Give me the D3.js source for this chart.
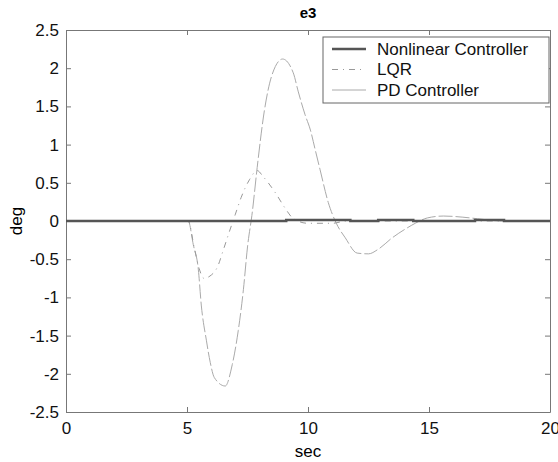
<!DOCTYPE html>
<html>
<head>
<meta charset="utf-8">
<script src="https://cdn.jsdelivr.net/npm/d3@7"></script>
<style>
  body { margin: 0; background: #fff; }
  svg { font-family: "Liberation Sans", Arial, sans-serif; }
</style>
</head>
<body>
<div id="chart-area"></div>
<script>
// e3 response, values
const xTicks = [0, 5, 10, 15, 20];
const yTicks = [-2.5, -2, -1.5, -1, -0.5, 0, 0.5, 1, 1.5, 2, 2.5];
const seriesNames = ["Nonlinear Controller", "LQR", "PD Controller"];

const nlTime = [0, 9.1, 9.1, 11.75, 11.75, 12.9, 12.9, 14.35, 14.35, 16.9, 16.9, 18.1, 18.1, 20];
const nlVal  = [0, 0, 0.012, 0.012, 0, 0, 0.012, 0.012, 0, 0, 0.012, 0.012, 0, 0];

const lqrTime = [0, 5.05, 5.3, 5.5, 5.7, 5.95, 6.26, 6.5, 6.75, 7.0, 7.24, 7.58, 7.9, 8.15, 8.65, 9.05, 9.4, 10.0, 11.0, 11.6, 20];
const lqrVal  = [0, 0, -0.35, -0.62, -0.75, -0.72, -0.6, -0.38, -0.14, 0.09, 0.31, 0.54, 0.66, 0.58, 0.37, 0.17, 0.03, -0.03, -0.03, 0, 0];

const pdTime = [0, 5.05, 5.26, 5.47, 5.59, 5.8, 5.96, 6.13, 6.58, 6.87, 7.12, 7.33, 7.5, 7.7, 7.9, 8.2, 8.5, 8.95, 9.39, 9.6, 9.88, 10.1, 10.3, 10.5, 10.84, 11.17, 11.54, 12.03, 12.5, 12.9, 13.48, 14.1, 14.43, 14.93, 15.6, 16.4, 17.0, 18.0, 20];
const pdVal  = [0, 0, -0.31, -0.64, -1.1, -1.56, -1.85, -2.05, -2.16, -1.88, -1.43, -0.9, -0.34, 0.12, 0.7, 1.45, 1.9, 2.12, 1.94, 1.69, 1.39, 1.19, 0.93, 0.67, 0.24, -0.03, -0.22, -0.42, -0.43, -0.37, -0.22, -0.09, -0.03, 0.04, 0.065, 0.05, 0.03, 0, 0];

const MARGIN = { LEFT: 66, RIGHT: 8, TOP: 30, BOTTOM: 50 };
const WIDTH = 558 - MARGIN.LEFT - MARGIN.RIGHT;
const HEIGHT = 462 - MARGIN.TOP - MARGIN.BOTTOM;

const svg = d3.select("#chart-area").append("svg")
  .attr("width", 558)
  .attr("height", 462);

const g = svg.append("g")
  .attr("transform", `translate(${MARGIN.LEFT}, ${MARGIN.TOP})`);

const x = d3.scaleLinear().domain([0, 20]).range([0, WIDTH]);
const y = d3.scaleLinear().domain([-2.5, 2.5]).range([HEIGHT, 0]);

// axes, matlab style: ticks inside on all sides
const fmt = d => String(d);
const bottom = g.append("g").attr("transform", `translate(0, ${HEIGHT})`)
  .call(d3.axisBottom(x).tickValues(xTicks).tickFormat(fmt).tickSizeInner(-5).tickSizeOuter(0).tickPadding(8));
const left = g.append("g")
  .call(d3.axisLeft(y).tickValues(yTicks).tickFormat(fmt).tickSizeInner(-5).tickSizeOuter(0).tickPadding(7));
g.append("g")
  .call(d3.axisTop(x).tickValues(xTicks).tickFormat("").tickSizeInner(-5).tickSizeOuter(0));
g.append("g").attr("transform", `translate(${WIDTH}, 0)`)
  .call(d3.axisRight(y).tickValues(yTicks).tickFormat("").tickSizeInner(-5).tickSizeOuter(0));

g.selectAll(".domain").attr("stroke", "#777");
g.selectAll(".tick line").attr("stroke", "#777");
g.selectAll(".tick text").attr("font-size", 17).attr("fill", "#111");
bottom.selectAll(".tick text").attr("dy", "0.85em");

const line = d3.line().x(d => x(d[0])).y(d => y(d[1]));
const smooth = d3.line().x(d => x(d[0])).y(d => y(d[1])).curve(d3.curveMonotoneX);

g.append("path")
  .datum(pdTime.map((t, i) => [t, pdVal[i]]))
  .attr("fill", "none").attr("stroke", "#aaa").attr("stroke-width", 1)
  .attr("stroke-dasharray", "14,3")
  .attr("d", smooth);

g.append("path")
  .datum(lqrTime.map((t, i) => [t, lqrVal[i]]))
  .attr("fill", "none").attr("stroke", "#999").attr("stroke-width", 1)
  .attr("stroke-dasharray", "6,5,1,5")
  .attr("d", smooth);

g.append("path")
  .datum(nlTime.map((t, i) => [t, nlVal[i]]))
  .attr("fill", "none").attr("stroke", "#555").attr("stroke-width", 2.5)
  .attr("d", line);

// legend
const legend = g.append("g").attr("transform", `translate(${WIDTH - 227}, 7)`);
legend.append("rect")
  .attr("width", 226).attr("height", 66)
  .attr("fill", "#fff").attr("stroke", "#666");
const legStyles = [
  { stroke: "#555", width: 2.5, dash: null },
  { stroke: "#999", width: 1, dash: "6,5,1,5" },
  { stroke: "#aaa", width: 1, dash: null }
];
seriesNames.forEach((name, i) => {
  const yy = 12 + i * 20.5;
  legend.append("line")
    .attr("x1", 9).attr("x2", 43).attr("y1", yy).attr("y2", yy)
    .attr("stroke", legStyles[i].stroke).attr("stroke-width", legStyles[i].width)
    .attr("stroke-dasharray", legStyles[i].dash);
  legend.append("text")
    .attr("x", 54).attr("y", yy).attr("dy", "0.35em")
    .attr("font-size", 17).attr("fill", "#111")
    .text(name);
});

// title and labels
svg.append("text")
  .attr("x", MARGIN.LEFT + WIDTH / 2).attr("y", 18)
  .attr("text-anchor", "middle").attr("font-size", 15).attr("font-weight", "bold")
  .text("e3");
svg.append("text")
  .attr("x", MARGIN.LEFT + WIDTH / 2).attr("y", 457)
  .attr("text-anchor", "middle").attr("font-size", 17)
  .text("sec");
svg.append("text")
  .attr("transform", `translate(22, ${MARGIN.TOP + HEIGHT / 2}) rotate(-90)`)
  .attr("text-anchor", "middle").attr("font-size", 17)
  .text("deg");
</script>
</body>
</html>
